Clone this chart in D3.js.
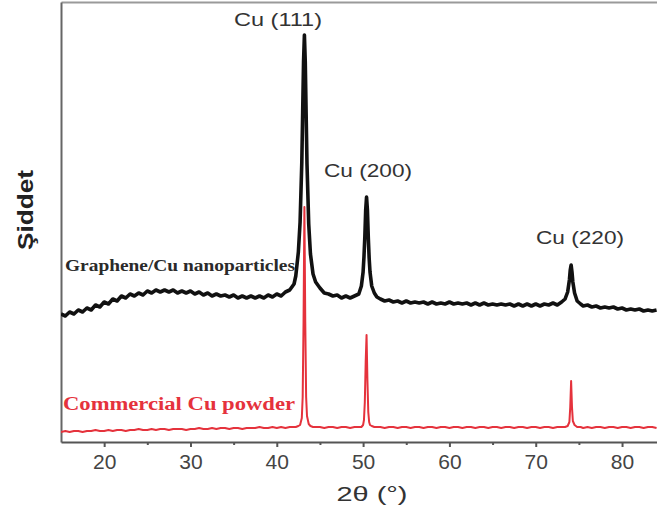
<!DOCTYPE html>
<html><head><meta charset="utf-8">
<script src="https://cdn.jsdelivr.net/npm/d3@7"></script>
<style>body{margin:0;background:#fff} svg{display:block}</style>
</head><body><svg id="c" width="657" height="515"></svg>
<script>
// ---- data (2θ in degrees, intensity in arbitrary units) ----
const twoTheta = [
  15,15.5,16,16.5,17,17.5,18,18.5,19,19.5,
  20,20.5,21,21.5,22,22.5,23,23.5,24,24.5,
  25,25.5,26,26.5,27,27.5,28,28.5,29,29.5,
  30,30.5,31,31.5,32,32.5,33,33.5,34,34.5,
  35,35.5,36,36.5,37,37.5,38,38.5,39,39.5,
  40,40.5,41,41.5,42,
  42.2,42.5,42.7,42.9,43.0,43.1,43.2,43.3,43.4,43.5,43.7,43.9,44.2,44.5,
  45,45.5,46,46.5,47,47.5,48,48.5,49,49.5,
  49.8,50.0,50.1,50.2,50.3,50.4,50.5,50.6,50.7,50.8,51.0,51.3,51.6,
  52,52.5,53,53.5,54,54.5,55,55.5,56,56.5,
  57,57.5,58,58.5,59,59.5,60,60.5,61,61.5,
  62,62.5,63,63.5,64,64.5,65,65.5,66,66.5,
  67,67.5,68,68.5,69,69.5,70,70.5,71,71.5,
  72,72.5,73,
  73.4,73.7,73.9,74.0,74.1,74.2,74.3,74.5,74.8,75.2,75.5,
  76,76.5,77,77.5,78,78.5,79,79.5,80,80.5,81,81.5,82,82.5,83,83.5,84
];
const grapheneCu = [
  128,126,130,128,132,130,134,132,137,135,
  140,138,143,141,146,144,148,146,149,147,
  151,149,152,150,152,150,152,149,151,149,
  151,148,150,147,149,146,148,146,147,145,
  147,144,146,144,146,144,146,144,147,145,
  148,146,150,152,158,
  166,190,220,280,330,380,407,380,328,278,218,188,168,160,
  154,149,148,146,147,144,146,144,146,148,
  156,170,185,205,232,245,232,205,184,170,156,149,145,
  143,141,142,140,141,139,141,139,140,139,
  140,138,140,138,139,138,140,138,139,138,
  139,137,139,137,139,137,138,137,138,137,
  138,136,138,136,138,136,138,136,138,137,
  139,137,140,
  143,150,162,172,177,170,160,149,141,138,136,
  137,135,136,134,135,134,135,133,134,132,133,132,133,131,132,131,132
];
const commercialCu = [
  10,11,10,11,11,10,11,11,12,11,
  11,12,11,12,12,11,12,12,13,12,
  12,13,12,13,13,12,13,13,13,12,
  13,13,14,13,13,14,13,14,14,13,
  14,14,13,14,14,14,15,14,14,15,
  14,15,14,15,15,
  15,16,17,24,45,120,235,120,45,26,18,16,15,15,
  15,14,15,15,14,15,15,14,15,15,
  15,17,22,40,80,107,62,30,20,17,16,15,15,
  15,14,15,15,14,15,15,14,15,15,
  14,15,15,14,15,15,14,15,15,14,
  15,15,14,15,15,14,15,15,14,15,
  15,14,15,15,14,15,15,14,15,15,
  14,15,15,
  15,16,20,35,61,35,21,17,15,15,14,
  15,14,15,15,14,15,15,14,15,15,14,15,15,14,15,15,14
];
const xTicks = [20,30,40,50,60,70,80];
const xMinorTicks = [25,35,45,55,65,75];
const peakLabels = ["Cu (111)","Cu (200)","Cu (220)"];
const seriesLabels = ["Graphene/Cu nanoparticles","Commercial Cu powder"];
const xTitle = "2θ (°)";
const yTitle = "Şiddet";

// ---- layout ----
const svg = d3.select("#c");
const x = d3.scaleLinear().domain([15, 84.05]).range([61, 657]);
const y = d3.scaleLinear().domain([0, 440]).range([442, 2]);

svg.append("defs").append("clipPath").attr("id","clip")
  .append("rect").attr("x",61).attr("y",0).attr("width",596).attr("height",442);

// frame: top line and left axis
svg.append("g").attr("transform","translate(0,2)")
  .call(d3.axisTop(x).tickValues([]).tickSizeOuter(0))
  .call(g=>g.select(".domain").attr("stroke","#9a9a9a").attr("stroke-width",2));
svg.append("g").attr("transform","translate(61,0)")
  .call(d3.axisLeft(y).tickValues([]).tickSizeOuter(0))
  .call(g=>g.select(".domain").attr("stroke","#666").attr("stroke-width",2));

// series
const black = twoTheta.map((t,i)=>[t, grapheneCu[i]]);
const red = twoTheta.map((t,i)=>[t, commercialCu[i]]);
const line = d3.line().x(d=>x(d[0])).y(d=>y(d[1]));
const plot = svg.append("g").attr("clip-path","url(#clip)");
plot.append("path").datum(black).attr("d",line)
  .attr("fill","none").attr("stroke","#111").attr("stroke-width",3.6).attr("stroke-linejoin","round");
plot.append("path").datum(red).attr("d",line)
  .attr("fill","none").attr("stroke","#e5323c").attr("stroke-width",2).attr("stroke-linejoin","round");

// bottom axis
const xa = svg.append("g").attr("transform","translate(0,442)")
  .call(d3.axisBottom(x).tickValues(xTicks).tickSize(5).tickPadding(7).tickSizeOuter(0));
xa.select(".domain").attr("stroke","#555").attr("stroke-width",2);
xa.selectAll(".tick line").attr("stroke","#555").attr("stroke-width",2);
xa.selectAll(".tick text").attr("fill","#444")
  .style("font-family","'Liberation Sans', Arial, sans-serif").style("font-size","21px");
svg.append("g").attr("transform","translate(0,442)")
  .call(d3.axisBottom(x).tickValues(xMinorTicks).tickSize(3).tickFormat("").tickSizeOuter(0))
  .call(g=>g.select(".domain").remove())
  .call(g=>g.selectAll(".tick line").attr("stroke","#555").attr("stroke-width",2));

// peak labels
const peakPos = [[278,26],[368,177],[580,244]];
svg.selectAll("text.peak").data(peakLabels).join("text").attr("class","peak")
  .attr("x",(d,i)=>peakPos[i][0]).attr("y",(d,i)=>peakPos[i][1])
  .attr("text-anchor","middle")
  .attr("textLength",88).attr("lengthAdjust","spacingAndGlyphs")
  .attr("fill","#333")
  .style("font-family","'Liberation Sans', Arial, sans-serif").style("font-size","18px")
  .text(d=>d);

// series labels
svg.append("text").attr("x",65).attr("y",271)
  .attr("textLength",230).attr("lengthAdjust","spacingAndGlyphs")
  .attr("fill","#2a2a2a")
  .style("font-family","'Liberation Serif', 'Times New Roman', serif").style("font-size","17px").style("font-weight","bold")
  .text(seriesLabels[0]);
svg.append("text").attr("x",63).attr("y",410)
  .attr("textLength",232).attr("lengthAdjust","spacingAndGlyphs")
  .attr("fill","#e5323c")
  .style("font-family","'Liberation Serif', 'Times New Roman', serif").style("font-size","18px").style("font-weight","bold")
  .text(seriesLabels[1]);

// axis titles
svg.append("text").attr("x",372).attr("y",501).attr("text-anchor","middle")
  .attr("textLength",71).attr("lengthAdjust","spacingAndGlyphs")
  .attr("fill","#333")
  .style("font-family","'Liberation Sans', Arial, sans-serif").style("font-size","20px")
  .text(xTitle);
svg.append("text").attr("transform","translate(33,210) rotate(-90)").attr("text-anchor","middle")
  .attr("textLength",80).attr("lengthAdjust","spacingAndGlyphs")
  .attr("fill","#222")
  .style("font-family","'Liberation Sans', Arial, sans-serif").style("font-size","22px").style("font-weight","bold")
  .text(yTitle);
</script>
</body></html>
